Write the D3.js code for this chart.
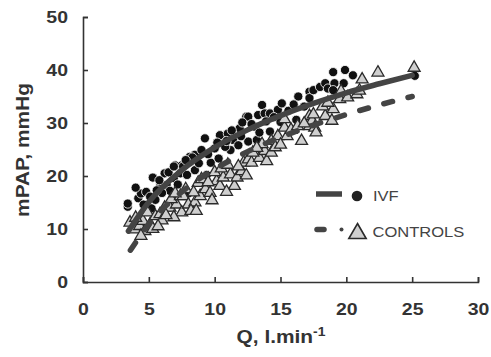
<!DOCTYPE html>
<html>
<head>
<meta charset="utf-8">
<script src="https://cdn.jsdelivr.net/npm/d3@7"></script>
<style>
  body { margin: 0; background: #fff; }
  svg text { font-family: "Liberation Sans", Arial, sans-serif; }
</style>
</head>
<body>
<svg id="chart" width="491" height="357"></svg>
<script>
// tick values
const xTicks = [0, 5, 10, 15, 20, 25, 30];
const yTicks = [0, 10, 20, 30, 40, 50];

// IVF scatter points [Q, mPAP]
const ivfPoints = [
  [3.4, 14.2], [3.4, 14.8], [4.2, 15.8], [4.4, 16.7], [4.8, 17.0], [5.1, 16.1],
  [5.2, 13.9], [5.5, 15.5], [5.3, 19.7], [5.85, 18.0], [6.35, 18.3], [6.9, 19.6],
  [7.0, 22.0], [7.5, 22.0], [7.4, 20.5], [7.6, 21.8], [7.9, 20.2], [8.0, 16.7],
  [8.1, 22.7], [8.5, 24.0], [8.5, 21.1], [9.0, 24.9], [9.26, 27.1], [9.4, 20.2],
  [10.0, 25.2], [10.3, 23.3], [10.4, 27.7], [11.0, 28.0], [11.2, 24.9], [11.4, 26.8],
  [11.8, 25.8], [11.9, 29.0], [12.4, 31.2], [12.55, 31.2], [12.55, 26.5], [13.2, 26.8],
  [13.06, 29.3], [13.3, 31.5], [13.6, 33.4], [13.8, 31.8], [14.2, 31.8], [14.2, 28.4],
  [14.8, 32.5], [15.1, 33.7], [16.2, 30.6], [16.35, 35.0], [17.2, 35.9], [17.2, 34.7],
  [17.5, 36.2], [18.0, 36.8], [18.4, 37.5], [18.6, 36.5], [19.0, 39.6], [19.1, 37.5],
  [19.0, 36.2], [19.8, 37.5], [19.9, 40.0], [20.5, 39.0], [25.2, 38.9],
  [6.2, 20.5], [6.6, 17.2], [7.2, 18.4], [9.7, 22.5], [10.8, 25.5], [12.0, 27.5],
  [4.0, 17.8], [5.8, 19.2], [6.0, 16.8], [6.5, 20.7], [6.9, 21.8], [8.1, 23.6],
  [8.3, 23.5], [8.8, 22.4], [9.5, 24.1], [10.2, 26.3], [10.9, 26.6], [11.3, 28.6],
  [12.1, 30.1], [12.8, 29.8], [13.4, 28.2], [13.9, 30.3], [14.5, 31.1], [15.0, 30.2],
  [15.6, 32.3], [16.0, 33.5], [16.8, 33.1], [4.6, 14.6], [5.6, 17.3], [7.8, 23.0]
];

// CONTROLS scatter points [Q, mPAP]
const controlPoints = [
  [3.57, 11.4], [3.95, 10.1], [4.3, 10.75], [4.7, 9.8], [4.55, 11.7], [5.1, 11.1],
  [4.9, 13.3], [5.5, 12.6], [5.85, 13.0], [6.2, 14.2], [6.6, 14.2], [7.1, 14.8],
  [6.7, 15.8], [7.4, 16.4], [7.5, 13.3], [7.6, 16.4], [8.0, 14.8], [8.5, 15.2],
  [8.9, 16.4], [8.75, 18.9], [9.3, 17.7], [9.65, 17.0], [10.15, 19.2], [10.4, 18.3],
  [10.65, 19.9], [11.2, 20.5], [11.5, 18.3], [11.7, 19.9], [12.05, 21.1], [12.2, 22.7],
  [12.55, 23.3], [12.8, 22.7], [13.4, 23.6], [13.95, 23.0], [13.8, 24.9], [14.3, 24.6],
  [13.6, 26.2], [14.3, 26.8], [14.8, 27.7], [15.5, 27.7], [16.6, 26.8], [15.3, 29.3],
  [15.3, 30.9], [17.2, 29.6], [17.2, 31.5], [17.4, 30.6], [17.6, 29.3], [17.7, 28.4],
  [17.5, 31.8], [18.4, 31.5], [18.9, 30.6], [19.0, 32.8], [19.5, 34.7], [19.6, 36.2],
  [20.1, 35.0], [20.8, 35.6], [21.2, 38.4], [22.4, 39.7], [25.15, 40.6],
  [5.3, 10.2], [6.0, 11.8], [6.9, 12.4], [8.2, 13.6], [9.8, 15.6], [10.9, 17.2],
  [4.0, 12.3], [4.4, 8.9], [5.7, 10.7], [6.3, 12.8], [7.0, 16.9], [7.8, 17.7],
  [8.4, 17.1], [9.0, 19.6], [9.5, 19.0], [10.0, 20.9], [10.5, 21.6], [11.0, 22.3],
  [11.8, 22.0], [12.4, 20.3], [12.9, 24.6], [13.2, 25.5], [14.6, 25.6], [15.0, 26.1],
  [15.8, 28.9], [16.3, 29.6], [16.8, 30.1], [18.2, 33.3], [18.6, 34.0], [21.0, 36.3],
  [8.6, 13.6]
];

// fitted curves [Q, mPAP]
const ivfFit = [
  [3.45, 9.6], [5, 15.1], [7.5, 21.1], [10, 25.4], [12.5, 28.7], [15, 31.4],
  [17.5, 33.7], [20, 35.7], [22.5, 37.4], [25, 39.0]
];
const controlFit = [
  [3.6, 6.0], [5, 10.9], [7.5, 17.0], [10, 21.3], [12.5, 24.6], [15, 27.3],
  [17.5, 29.6], [20, 31.6], [22.5, 33.4], [25, 35.0]
];

const seriesNames = ["IVF", "CONTROLS"];

const svg = d3.select("#chart");
const ink = "#333";
const lineInk = "#444";
// the original lettering is a little wider than Arial
const stretch = 1.18;

const x = d3.scaleLinear().domain([0, 30]).range([83, 478]);
const y = d3.scaleLinear().domain([0, 50]).range([282, 17]);

// axes, ticks inward
const xAxis = svg.append("g")
  .attr("transform", "translate(0," + y(0) + ")")
  .call(d3.axisBottom(x).tickValues(xTicks).tickSize(-5).tickPadding(21));
const yAxis = svg.append("g")
  .attr("transform", "translate(" + x(0) + ",0)")
  .call(d3.axisLeft(y).tickValues(yTicks).tickSize(-5).tickPadding(15));

[xAxis, yAxis].forEach(g => {
  g.select(".domain").attr("stroke", ink).attr("stroke-width", 1.6);
  g.selectAll(".tick line").attr("stroke", ink).attr("stroke-width", 1.6);
  g.selectAll(".tick text")
    .attr("fill", ink)
    .attr("transform", "scale(" + stretch + ",1)")
    .style("font-size", "16.5px")
    .style("font-weight", "bold");
});
xAxis.selectAll(".tick text").attr("x", 0);
yAxis.selectAll(".tick text").attr("x", -15 / stretch).attr("dy", "0.36em");

// axis titles
svg.append("text")
  .attr("transform", "translate(29,150) rotate(-90) scale(1.16,1)")
  .attr("text-anchor", "middle")
  .attr("fill", ink)
  .style("font-size", "18px")
  .style("font-weight", "bold")
  .text("mPAP, mmHg");

const xt = svg.append("text")
  .attr("transform", "translate(281,343) scale(1.16,1)")
  .attr("text-anchor", "middle")
  .attr("fill", ink)
  .style("font-size", "18px")
  .style("font-weight", "bold");
xt.append("tspan").text("Q, l.min");
xt.append("tspan").attr("dy", -7).style("font-size", "12px").text("-1");

// markers
const tri = d3.symbol().type(d3.symbolTriangle).size(62);

svg.append("g").selectAll("circle")
  .data(ivfPoints)
  .enter()
  .append("circle")
  .attr("cx", d => x(d[0]))
  .attr("cy", d => y(d[1]))
  .attr("r", 4.6)
  .attr("fill", "#111")
  .attr("stroke", "#fff")
  .attr("stroke-width", 0.8);

svg.append("g").selectAll("path")
  .data(controlPoints)
  .enter()
  .append("path")
  .attr("d", tri)
  .attr("transform", d => "translate(" + x(d[0]) + "," + (y(d[1]) + 1) + ")")
  .attr("fill", "#cfcfcf")
  .attr("stroke", "#2a2a2a")
  .attr("stroke-width", 1.3);

// fit lines
const line = d3.line()
  .x(d => x(d[0]))
  .y(d => y(d[1]))
  .curve(d3.curveMonotoneX);

svg.append("path")
  .attr("d", line(ivfFit))
  .attr("fill", "none")
  .attr("stroke", lineInk)
  .attr("stroke-width", 5.5)
  .attr("stroke-linecap", "round");

svg.append("path")
  .attr("d", line(controlFit))
  .attr("fill", "none")
  .attr("stroke", lineInk)
  .attr("stroke-width", 5.5)
  .attr("stroke-linecap", "round")
  .attr("stroke-dasharray", "9,16");

// legend
const legend = svg.append("g");
legend.append("line")
  .attr("x1", 316).attr("x2", 342).attr("y1", 194).attr("y2", 194)
  .attr("stroke", lineInk).attr("stroke-width", 5.5);
legend.append("circle")
  .attr("cx", 357).attr("cy", 196).attr("r", 5.3)
  .attr("fill", "#222");
legend.append("text")
  .attr("transform", "translate(373,200.5) scale(" + stretch + ",1)")
  .attr("fill", "#444")
  .style("font-size", "14px")
  .text(seriesNames[0]);

legend.append("line")
  .attr("x1", 317).attr("x2", 324).attr("y1", 229.5).attr("y2", 229.5)
  .attr("stroke", lineInk).attr("stroke-width", 5.5)
  .attr("stroke-linecap", "round");
legend.append("circle")
  .attr("cx", 341.5).attr("cy", 229.5).attr("r", 2)
  .attr("fill", lineInk);
legend.append("path")
  .attr("d", d3.symbol().type(d3.symbolTriangle).size(130)())
  .attr("transform", "translate(357.5,233.5)")
  .attr("fill", "#cfcfcf")
  .attr("stroke", "#2a2a2a")
  .attr("stroke-width", 1.6);
legend.append("text")
  .attr("transform", "translate(372.5,236.5) scale(" + stretch + ",1)")
  .attr("fill", "#444")
  .style("font-size", "14px")
  .text(seriesNames[1]);
</script>
</body>
</html>
